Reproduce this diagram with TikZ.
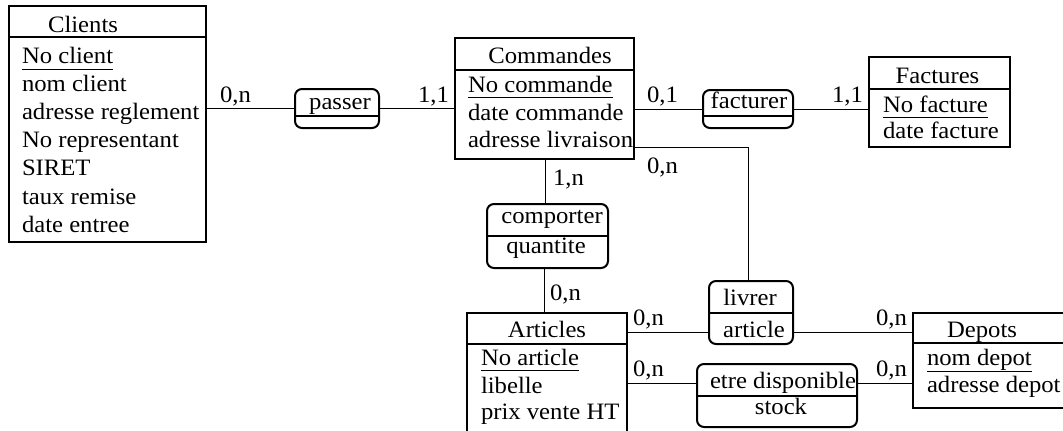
\documentclass[tikz,border=0pt]{standalone}
\usepackage{fontspec}
\setmainfont{Liberation Serif}[FakeStretch=1.05]
\begin{document}
\begin{tikzpicture}[x=1pt,y=-1pt,
  ent/.style={draw, line width=2pt, inner sep=0, outer sep=0, anchor=north west},
  asso/.style={draw, line width=2pt, rounded corners=7pt, inner sep=0, outer sep=0, anchor=north west},
  txt/.style={inner sep=0, outer sep=0, anchor=base west},
  ttl/.style={inner sep=0, outer sep=0, anchor=base},
  card/.style={inner sep=0, outer sep=0, anchor=base west},
  link/.style={line width=1pt},
  sepline/.style={line width=2pt},
  uline/.style={line width=0.9pt},
  every node/.append style={font=\fontsize{23.5}{27}\selectfont}]
\useasboundingbox (0,0) rectangle (1063,431);
\clip (0,0) rectangle (1063,431);

% ---------- Entities ----------
\node[ent, minimum width=197pt, minimum height=236pt] (clients) at (9,6) {};
\draw[sepline] (clients.west |- 0,37) -- (clients.east |- 0,37);
\node[ttl] (clientsT) at (83,32) {Clients};
\node[txt] (c1) at (22,63) {No client};
\node[txt] (c2) at (22,91) {nom client};
\node[txt] (c3) at (22,119) {adresse reglement};
\node[txt] (c4) at (22,147) {No representant};
\node[txt] (c5) at (22,175) {SIRET};
\node[txt] (c6) at (22,204) {taux remise};
\node[txt] (c7) at (22,232) {date entree};
\draw[uline] ([yshift=-6pt]c1.base west) -- ([yshift=-6pt]c1.base east);

\node[ent, minimum width=179pt, minimum height=121pt] (commandes) at (455,38) {};
\draw[sepline] (commandes.west |- 0,70) -- (commandes.east |- 0,70);
\node[ttl] (commandesT) at (550,63) {Commandes};
\node[txt] (m1) at (468,92) {No commande};
\node[txt] (m2) at (468,120) {date commande};
\node[txt] (m3) at (468,147) {adresse livraison};
\draw[uline] ([yshift=-5pt]m1.base west) -- ([yshift=-5pt]m1.base east);

\node[ent, minimum width=141pt, minimum height=90pt] (factures) at (869,57) {};
\draw[sepline] (factures.west |- 0,89) -- (factures.east |- 0,89);
\node[ttl] (facturesT) at (937.5,83) {Factures};
\node[txt] (f1) at (883,112) {No facture};
\node[txt] (f2) at (883,138) {date facture};
\draw[uline] ([yshift=-5pt]f1.base west) -- ([yshift=-5pt]f1.base east);

\node[ent, minimum width=160pt, minimum height=132pt] (articles) at (467,313) {};
\draw[sepline] (articles.west |- 0,344) -- (articles.east |- 0,344);
\node[ttl] (articlesT) at (547,337) {Articles};
\node[txt] (a1) at (481,365) {No article};
\node[txt] (a2) at (481,393) {libelle};
\node[txt] (a3) at (481,419) {prix vente HT};
\draw[uline] ([yshift=-5pt]a1.base west) -- ([yshift=-5pt]a1.base east);

\node[ent, minimum width=162pt, minimum height=95pt] (depots) at (913,313) {};
\draw[sepline] (depots.west |- 0,343) -- (depots.east |- 0,343);
\node[ttl] (depotsT) at (982,337) {Depots};
\node[txt] (d1) at (927,365) {nom depot};
\node[txt] (d2) at (927,392) {adresse depot};
\draw[uline] ([yshift=-6pt]d1.base west) -- ([yshift=-6pt]d1.base east);

% ---------- Associations ----------
\node[asso, minimum width=84pt, minimum height=39pt] (passer) at (295,89) {};
\draw[sepline] (passer.west |- 0,116) -- (passer.east |- 0,116);
\node[ttl] (passerT) at (340,109) {passer};

\node[asso, minimum width=90pt, minimum height=38pt] (facturer) at (703,90) {};
\draw[sepline] (facturer.west |- 0,116) -- (facturer.east |- 0,116);
\node[ttl] (facturerT) at (749,108) {facturer};

\node[asso, minimum width=121pt, minimum height=64pt] (comporter) at (487,204) {};
\draw[sepline] (comporter.west |- 0,236) -- (comporter.east |- 0,236);
\node[ttl] (comporterT) at (552,223) {comporter};
\node[ttl] (comporterA) at (546,253) {quantite};

\node[asso, minimum width=84pt, minimum height=63pt] (livrer) at (709,281) {};
\draw[sepline] (livrer.west |- 0,313) -- (livrer.east |- 0,313);
\node[ttl] (livrerT) at (750,305) {livrer};
\node[ttl] (livrerA) at (754,337) {article};

\node[asso, minimum width=160pt, minimum height=63pt] (etre) at (697,364) {};
\draw[sepline] (etre.west |- 0,396) -- (etre.east |- 0,396);
\node[ttl] (etreT) at (783,388) {etre disponible};
\node[ttl] (etreA) at (781,414) {stock};

% ---------- Connectors ----------
\draw[link] (clients.east |- passer.west) -- (passer.west);
\draw[link] (passer.east) -- (commandes.west |- passer.east);
\draw[link] (commandes.east |- facturer.west) -- (facturer.west);
\draw[link] (facturer.east) -- (factures.west |- facturer.east);
\coordinate (bend) at (748,147);
\draw[link] (commandes.east |- bend) -- (bend) -- (livrer.north -| bend);
\coordinate (vc) at (545,0);
\draw[link] (commandes.south -| vc) -- (comporter.north -| vc);
\coordinate (va) at (544,0);
\draw[link] (comporter.south -| va) -- (articles.north -| va);
\coordinate (hl) at (0,332);
\draw[link] (articles.east |- hl) -- (livrer.west |- hl);
\draw[link] (livrer.east |- hl) -- (depots.west |- hl);
\coordinate (he) at (0,383);
\draw[link] (articles.east |- he) -- (etre.west |- he);
\draw[link] (etre.east |- he) -- (depots.west |- he);

% ---------- Cardinalities ----------
\node[card] (k1) at (220,102) {0,n};
\node[card] (k2) at (418,102) {1,1};
\node[card] (k3) at (647,102) {0,1};
\node[card] (k4) at (832,102) {1,1};
\node[card] (k5) at (647,173) {0,n};
\node[card] (k6) at (553,185) {1,n};
\node[card] (k7) at (550,300) {0,n};
\node[card] (k8) at (633,325) {0,n};
\node[card] (k9) at (876,325) {0,n};
\node[card] (k10) at (633,376) {0,n};
\node[card] (k11) at (876,376) {0,n};
\end{tikzpicture}
\end{document}
